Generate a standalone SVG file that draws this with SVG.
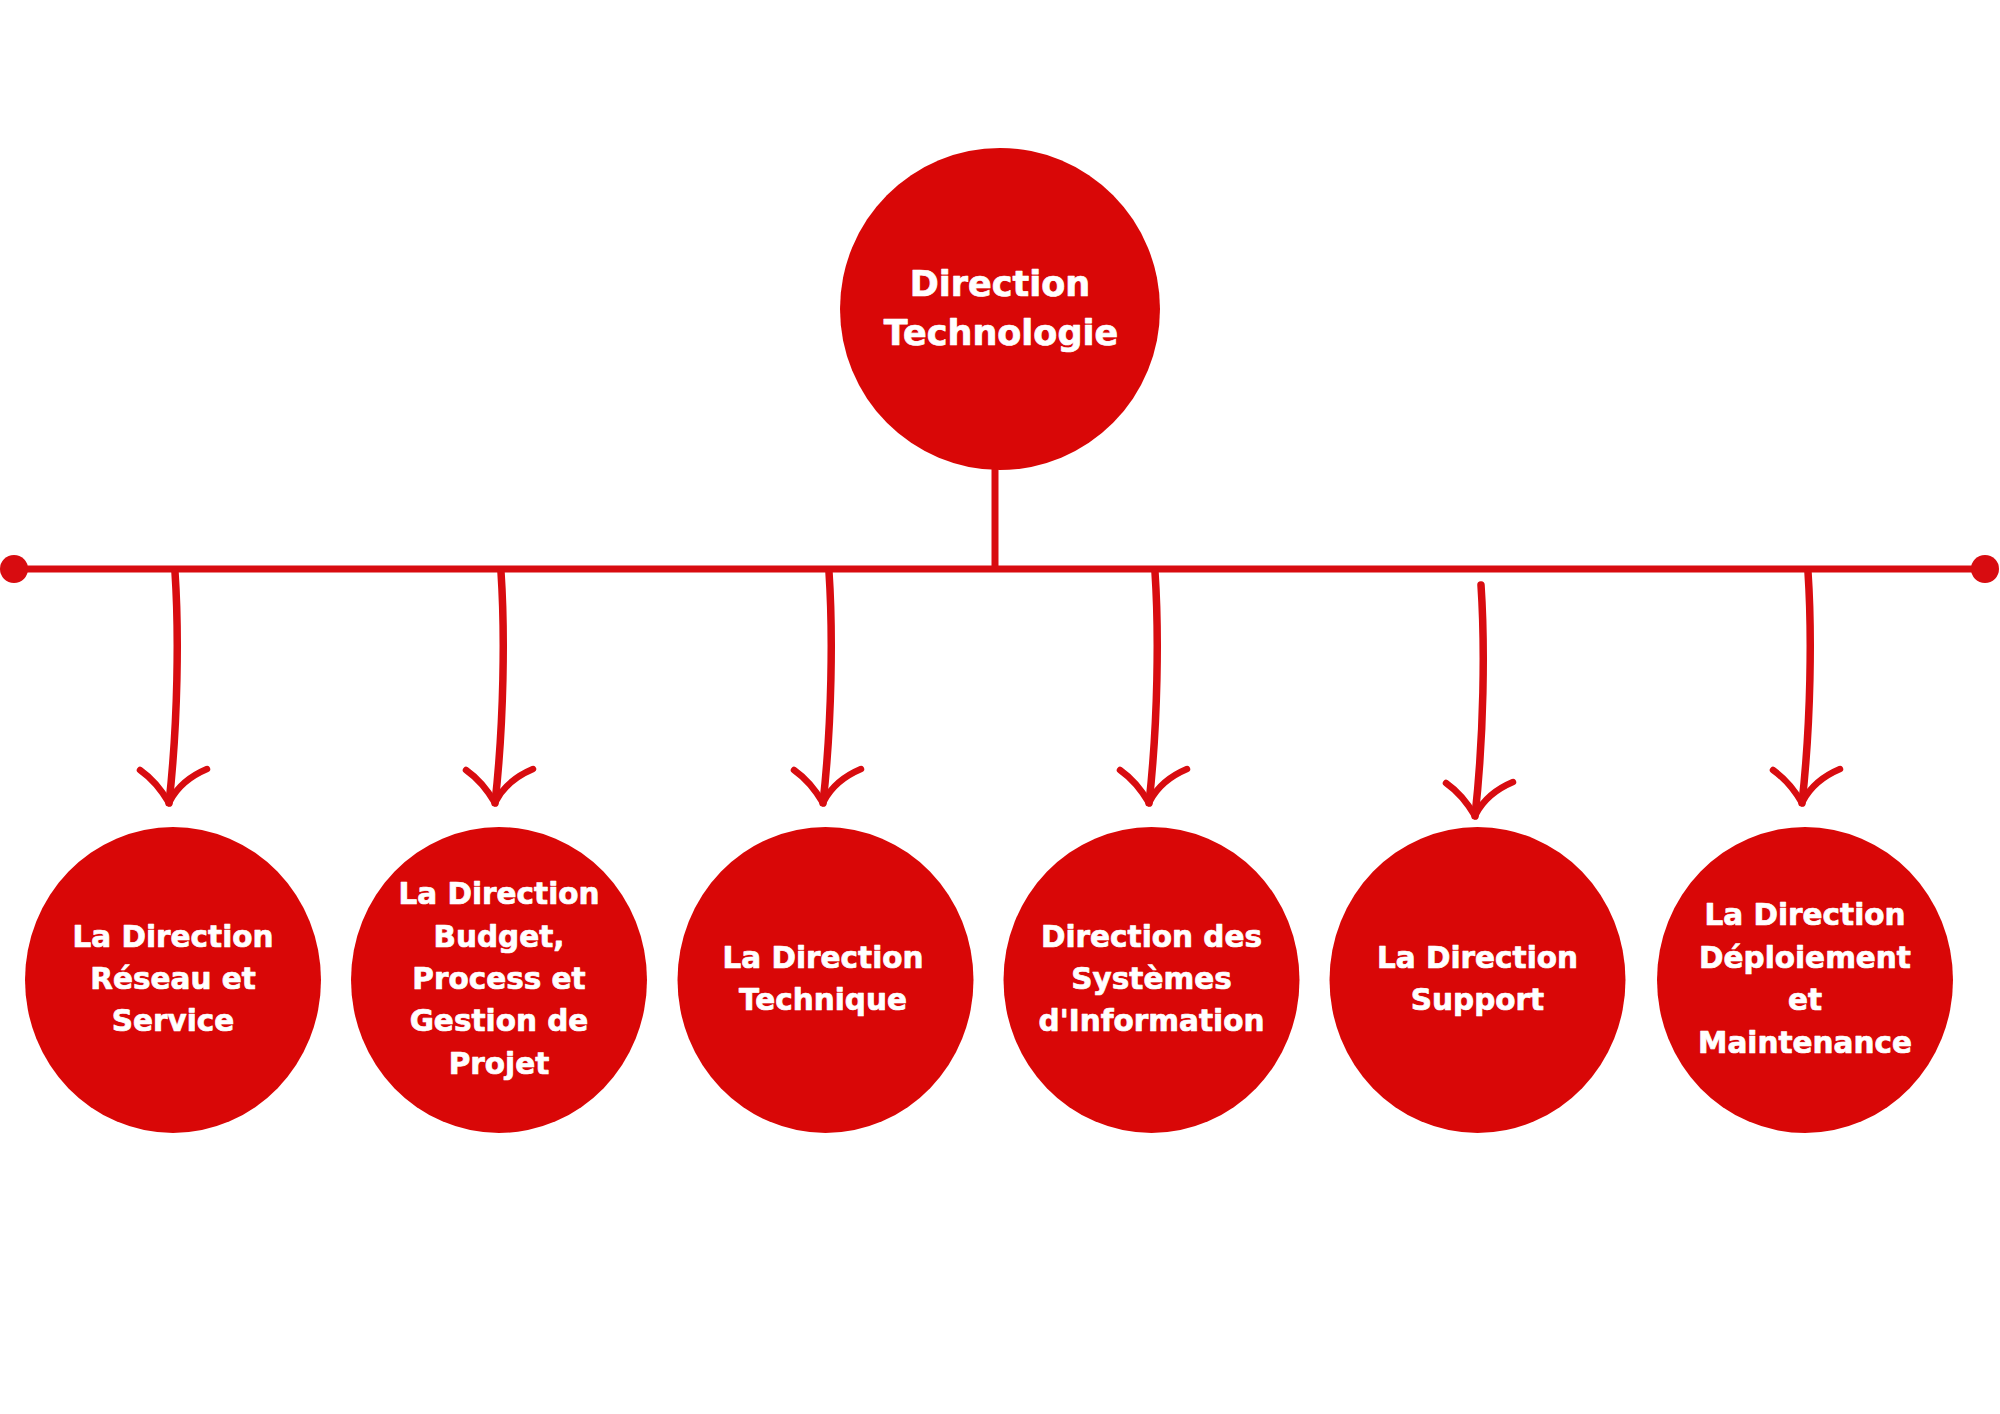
<svg xmlns="http://www.w3.org/2000/svg" width="2000" height="1414" viewBox="0 0 2000 1414">
<defs>
<style>
.node{fill:#D90707;}
.t{font-family:"DejaVu Sans","Liberation Sans",sans-serif;font-weight:bold;fill:#ffffff;stroke:#ffffff;stroke-width:0.7;stroke-linejoin:round;text-anchor:middle;}
.top{font-size:35px;}
.sub{font-size:29.5px;}
.ln{stroke:#D80C10;stroke-width:7;fill:none;}
.sh{stroke:#D80C10;stroke-width:7.5;fill:none;stroke-linecap:round;}
.arm{stroke:#D80C10;stroke-width:6.5;fill:none;stroke-linecap:round;}
</style>
<g id="arrow">
<path class="sh" d="M0,0 C4,60 3,150 -6,231"/>
<path class="arm" d="M-35,198 Q-18,210 -6,231"/>
<path class="arm" d="M32,197 Q6,208 -5,229"/>
</g>
</defs>
<rect width="2000" height="1414" fill="#ffffff"/>
<g id="connectors">
<line class="ln" x1="995" y1="468" x2="995" y2="569"/>
<line class="ln" x1="14" y1="569" x2="1985" y2="569"/>
<circle cx="14" cy="569" r="14" fill="#D80C10"/>
<circle cx="1985" cy="569" r="14" fill="#D80C10"/>
<use href="#arrow" x="175" y="572"/>
<use href="#arrow" x="501" y="572"/>
<use href="#arrow" x="829" y="572"/>
<use href="#arrow" x="1155" y="572"/>
<use href="#arrow" x="1481" y="585"/>
<use href="#arrow" x="1808" y="572"/>
</g>
<g id="n0">
<ellipse class="node" cx="1000" cy="309" rx="160" ry="161"/>
<text class="t top" x="1000" y="296">Direction</text>
<text class="t top" x="1001" y="345">Technologie</text>
</g>
<g id="n1">
<ellipse class="node" cx="173" cy="980" rx="148" ry="153"/>
<text class="t sub" x="173" y="947">La Direction</text>
<text class="t sub" x="173" y="989">Réseau et</text>
<text class="t sub" x="173" y="1031">Service</text>
</g>
<g id="n2">
<ellipse class="node" cx="499" cy="980" rx="148" ry="153"/>
<text class="t sub" x="499" y="904">La Direction</text>
<text class="t sub" x="499" y="947">Budget,</text>
<text class="t sub" x="499" y="989">Process et</text>
<text class="t sub" x="499" y="1031">Gestion de</text>
<text class="t sub" x="499" y="1074">Projet</text>
</g>
<g id="n3">
<ellipse class="node" cx="825.5" cy="980" rx="148" ry="153"/>
<text class="t sub" x="823" y="968">La Direction</text>
<text class="t sub" x="823" y="1010">Technique</text>
</g>
<g id="n4">
<ellipse class="node" cx="1151.5" cy="980" rx="148" ry="153"/>
<text class="t sub" x="1151.5" y="947">Direction des</text>
<text class="t sub" x="1151.5" y="989">Systèmes</text>
<text class="t sub" x="1151.5" y="1031">d'Information</text>
</g>
<g id="n5">
<ellipse class="node" cx="1477.5" cy="980" rx="148" ry="153"/>
<text class="t sub" x="1477.5" y="968">La Direction</text>
<text class="t sub" x="1477.5" y="1010">Support</text>
</g>
<g id="n6">
<ellipse class="node" cx="1805" cy="980" rx="148" ry="153"/>
<text class="t sub" x="1805" y="925">La Direction</text>
<text class="t sub" x="1805" y="968">Déploiement</text>
<text class="t sub" x="1805" y="1010">et</text>
<text class="t sub" x="1805" y="1053">Maintenance</text>
</g>
</svg>
